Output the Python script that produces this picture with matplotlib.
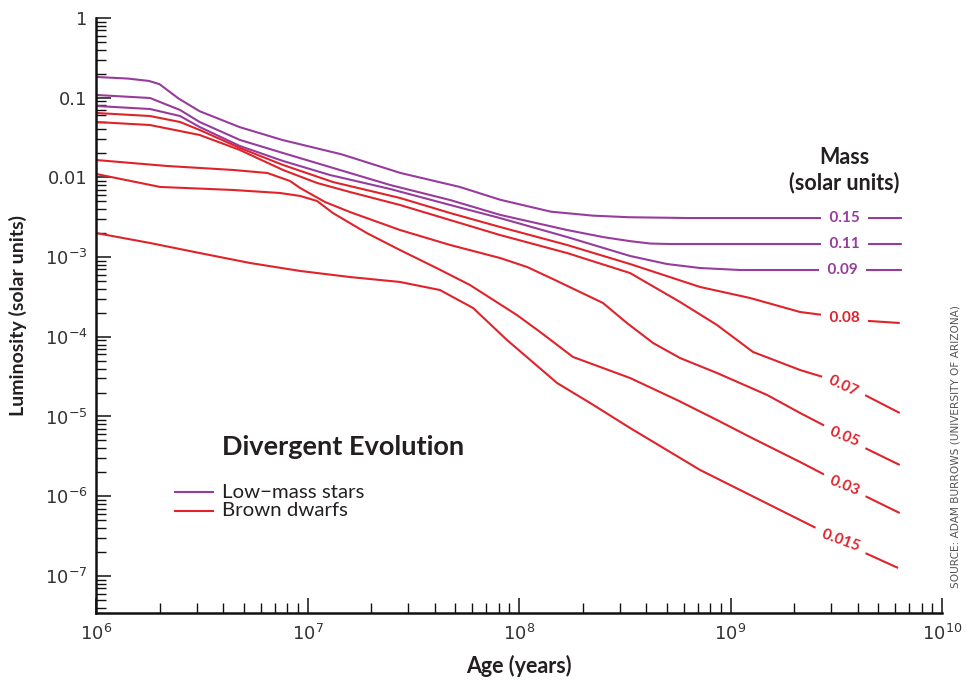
import numpy as np
import matplotlib
matplotlib.use("Agg")
import matplotlib.pyplot as plt
from matplotlib.ticker import LogLocator, NullFormatter

plt.rcParams['mathtext.fontset'] = 'dejavusans'

PURPLE = '#973c9c'
RED = '#e0232b'
TEXT = '#231f20'

# values, log10(age / yr) and log10(L / Lsun)
age_015 = [6.00, 6.15, 6.25, 6.30, 6.34, 6.39, 6.49, 6.68, 6.88, 7.16, 7.44, 7.72, 7.91, 8.15, 8.35, 8.52, 8.80, 9.81]
lum_015 = [-0.74, -0.76, -0.79, -0.83, -0.91, -1.01, -1.17, -1.37, -1.53, -1.71, -1.945, -2.12, -2.28, -2.43, -2.48, -2.50, -2.51, -2.51]

age_011 = [6.00, 6.255, 6.397, 6.49, 6.68, 6.884, 7.106, 7.39, 7.674, 7.91, 8.227, 8.40, 8.525, 8.62, 8.714, 9.81]
lum_011 = [-0.966, -1.004, -1.154, -1.305, -1.53, -1.694, -1.87, -2.095, -2.284, -2.47, -2.66, -2.75, -2.80, -2.83, -2.836, -2.836]

age_009 = [6.00, 6.255, 6.397, 6.49, 6.68, 6.884, 7.106, 7.39, 7.674, 7.91, 8.227, 8.525, 8.70, 8.856, 9.045, 9.81]
lum_009 = [-1.104, -1.142, -1.23, -1.368, -1.606, -1.794, -1.97, -2.145, -2.346, -2.51, -2.748, -2.986, -3.087, -3.137, -3.162, -3.162]

age_008 = [6.00, 6.255, 6.397, 6.49, 6.68, 6.884, 7.12, 7.437, 7.674, 7.91, 8.227, 8.525, 8.856, 9.092, 9.329, 9.437, 9.645, 9.80]
lum_008 = [-1.192, -1.23, -1.305, -1.405, -1.63, -1.844, -2.058, -2.258, -2.447, -2.622, -2.848, -3.087, -3.375, -3.513, -3.689, -3.726, -3.80, -3.827]

age_007 = [6.00, 6.255, 6.49, 6.68, 6.884, 7.045, 7.20, 7.437, 7.674, 7.91, 8.227, 8.525, 8.761, 8.936, 9.106, 9.329, 9.437, 9.626, 9.80]
lum_007 = [-1.305, -1.343, -1.468, -1.656, -1.907, -2.07, -2.183, -2.346, -2.535, -2.723, -2.949, -3.20, -3.563, -3.852, -4.19, -4.417, -4.504, -4.718, -4.956]

age_005 = [6.00, 6.336, 6.648, 6.81, 6.917, 6.965, 7.083, 7.20, 7.437, 7.674, 7.91, 8.038, 8.16, 8.397, 8.51, 8.634, 8.761, 8.936, 9.173, 9.329, 9.447, 9.626, 9.80]
lum_005 = [-1.782, -1.857, -1.907, -1.945, -2.045, -2.133, -2.309, -2.434, -2.66, -2.848, -3.011, -3.124, -3.275, -3.576, -3.827, -4.078, -4.266, -4.454, -4.73, -4.956, -5.119, -5.383, -5.608]

age_003 = [6.00, 6.303, 6.648, 6.87, 6.965, 7.045, 7.12, 7.28, 7.437, 7.61, 7.768, 7.99, 8.10, 8.255, 8.525, 8.747, 8.936, 9.092, 9.329, 9.447, 9.626, 9.80]
lum_003 = [-1.957, -2.12, -2.158, -2.196, -2.233, -2.296, -2.447, -2.698, -2.911, -3.137, -3.35, -3.727, -3.94, -4.253, -4.517, -4.793, -5.044, -5.257, -5.571, -5.734, -5.985, -6.211]

age_0015 = [6.00, 6.255, 6.49, 6.728, 6.965, 7.20, 7.437, 7.626, 7.783, 7.943, 8.18, 8.336, 8.525, 8.856, 9.234, 9.423, 9.626, 9.792]
lum_0015 = [-2.698, -2.823, -2.949, -3.074, -3.174, -3.25, -3.312, -3.413, -3.639, -4.04, -4.58, -4.83, -5.144, -5.671, -6.173, -6.424, -6.70, -6.90]

masses = ['0.15', '0.11', '0.09', '0.08', '0.07', '0.05', '0.03', '0.015']
ages = [age_015, age_011, age_009, age_008, age_007, age_005, age_003, age_0015]
lums = [lum_015, lum_011, lum_009, lum_008, lum_007, lum_005, lum_003, lum_0015]
colors = [PURPLE, PURPLE, PURPLE, RED, RED, RED, RED, RED]
label_rot = [0, 0, 0, 0, -25, -22, -22, -20]
label_age = [9.54, 9.54, 9.53, 9.54, 9.535, 9.54, 9.54, 9.52]

y_ticks = [1, 0.1, 0.01, 1e-3, 1e-4, 1e-5, 1e-6, 1e-7]
y_tick_labels = ['1', '0.1', '0.01', r'$10^{-3}$', r'$10^{-4}$', r'$10^{-5}$', r'$10^{-6}$', r'$10^{-7}$']
x_ticks = [1e6, 1e7, 1e8, 1e9, 1e10]
x_tick_labels = [r'$10^{6}$', r'$10^{7}$', r'$10^{8}$', r'$10^{9}$', r'$10^{10}$']

fig = plt.figure(figsize=(9.66, 6.81), dpi=100)
ax = fig.add_axes([0.0994, 0.0999, 0.8758, 0.8737])

for a, l, c in zip(ages, lums, colors):
    ax.plot(10 ** np.array(a), 10 ** np.array(l), color=c, lw=1.5, solid_capstyle='butt',
            solid_joinstyle='round', zorder=2)

# mass labels sitting in gaps of the curves
for m, a, l, c, rot, la in zip(masses, ages, lums, colors, label_rot, label_age):
    ly = np.interp(la, a, l)
    ax.text(10 ** la, 10 ** ly, '  ' + m + '  ', color=c, fontsize=11, fontweight='bold',
            family='Lato', rotation=rot, rotation_mode='anchor', ha='center', va='center',
            bbox=dict(boxstyle='square,pad=0.05', fc='white', ec='none'), zorder=3)

ax.set_xscale('log')
ax.set_yscale('log')
ax.set_xlim(1e6, 1e10)
ax.set_ylim(10 ** -7.465, 1)

ax.set_xticks(x_ticks, x_tick_labels)
ax.set_yticks(y_ticks, y_tick_labels)
ax.xaxis.set_minor_locator(LogLocator(base=10, subs=np.arange(2, 10)))
ax.yaxis.set_minor_locator(LogLocator(base=10, subs=np.arange(2, 10)))
ax.xaxis.set_minor_formatter(NullFormatter())
ax.yaxis.set_minor_formatter(NullFormatter())
ax.tick_params(which='major', direction='in', length=11, width=1.1, labelsize=13, colors='#111', labelcolor='#333')
ax.tick_params(which='minor', direction='in', length=7.5, width=1.0, colors='#111')
ax.tick_params(axis='x', which='major', pad=8)
ax.tick_params(axis='y', which='major', pad=6)

for side in ['top', 'right']:
    ax.spines[side].set_visible(False)
for side in ['left', 'bottom']:
    ax.spines[side].set_linewidth(1.8)
    ax.spines[side].set_color('#111')

ax.set_xlabel('Age (years)', fontsize=15.5, fontweight='bold', family='Lato', color=TEXT)
ax.set_ylabel('Luminosity (solar units)', fontsize=14, fontweight='bold', family='Lato', color=TEXT)
ax.xaxis.set_label_coords(0.5, -0.071)
ax.yaxis.set_label_coords(-0.0816, 0.5)

fig.text(222 / 966, 1 - 447 / 681, 'Divergent Evolution', fontsize=19.5, fontweight='bold', family='Lato',
         color=TEXT, ha='left', va='center')

# hand drawn legend
for yy, c, lab in [(492, PURPLE, 'Low\u2212mass stars'), (511, RED, 'Brown dwarfs')]:
    fig.add_artist(plt.Line2D([175 / 966, 213 / 966], [1 - yy / 681, 1 - yy / 681], color=c, lw=1.5))
    fig.text(222 / 966, 1 - yy / 681, lab, fontsize=14.7, family='Lato', color=TEXT, ha='left', va='center')

fig.text(844 / 966, 1 - 157 / 681, 'Mass', fontsize=15.5, fontweight='bold', family='Lato', color=TEXT,
         ha='center', va='center')
fig.text(844 / 966, 1 - 183 / 681, '(solar units)', fontsize=15.5, fontweight='bold', family='Lato', color=TEXT,
         ha='center', va='center')

fig.text(955 / 966, 1 - 447 / 681, 'SOURCE: ADAM BURROWS (UNIVERSITY OF ARIZONA)', fontsize=7.6,
         family='DejaVu Sans', color='#555', rotation=90, ha='center', va='center')

fig.savefig('out.png', dpi=100, facecolor='white')
